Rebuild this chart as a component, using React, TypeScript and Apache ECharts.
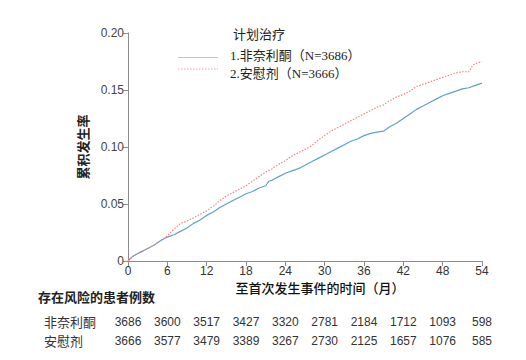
import React, { useEffect, useRef } from "react";
import * as echarts from "echarts";

const blueMonths = [0, 0.5, 1, 2, 3, 4, 5, 6, 7, 8, 9, 10, 11, 12, 13, 14, 15, 16, 17, 18, 19, 20, 21, 21.5, 22, 23, 24, 25, 26, 27, 28, 29, 30, 31, 32, 33, 34, 35, 36, 37, 38, 39, 40, 41, 42, 43, 44, 45, 46, 47, 48, 49, 50, 51, 52, 53, 54];
const blueValues = [0, 0.003, 0.005, 0.008, 0.011, 0.014, 0.018, 0.021, 0.023, 0.026, 0.029, 0.033, 0.036, 0.04, 0.043, 0.047, 0.05, 0.053, 0.056, 0.059, 0.061, 0.064, 0.066, 0.07, 0.071, 0.074, 0.077, 0.079, 0.081, 0.084, 0.087, 0.09, 0.093, 0.096, 0.099, 0.102, 0.105, 0.107, 0.11, 0.112, 0.113, 0.114, 0.118, 0.121, 0.125, 0.129, 0.133, 0.136, 0.139, 0.142, 0.145, 0.147, 0.149, 0.151, 0.152, 0.154, 0.156];

const redMonths = [0, 1, 2, 3, 4, 5, 6, 7, 8, 9, 10, 11, 12, 13, 14, 15, 16, 17, 18, 19, 20, 21, 22, 23, 24, 25, 26, 27, 28, 29, 30, 31, 32, 33, 34, 35, 36, 37, 38, 39, 40, 41, 42, 43, 44, 45, 46, 47, 48, 49, 50, 51, 52, 52.6, 53, 54];
const redValues = [0, 0.005, 0.008, 0.011, 0.014, 0.018, 0.022, 0.028, 0.033, 0.035, 0.038, 0.041, 0.044, 0.048, 0.053, 0.057, 0.06, 0.063, 0.066, 0.07, 0.074, 0.078, 0.081, 0.085, 0.088, 0.092, 0.095, 0.098, 0.101, 0.106, 0.11, 0.114, 0.117, 0.12, 0.123, 0.126, 0.129, 0.132, 0.135, 0.137, 0.141, 0.144, 0.146, 0.149, 0.153, 0.155, 0.157, 0.159, 0.161, 0.163, 0.165, 0.166, 0.166, 0.172, 0.173, 0.175];

const xTicks = [0, 6, 12, 18, 24, 30, 36, 42, 48, 54];
const riskFinerenone = [3686, 3600, 3517, 3427, 3320, 2781, 2184, 1712, 1093, 598];
const riskPlacebo = [3666, 3577, 3479, 3389, 3267, 2730, 2125, 1657, 1076, 585];

const seriesNames = ["1.非奈利酮（N=3686）", "2.安慰剂（N=3666）"];
const rowLabels = ["非奈利酮", "安慰剂"];
const legendTitle = "计划治疗";
const riskTitle = "存在风险的患者例数";
const xName = "至首次发生事件的时间（月）";
const yName = "累积发生率";

const BLUE = "#5fa3c4";
const RED = "#f08486";
const SANS = "Liberation Sans, Arial, Noto Sans CJK SC, sans-serif";
const SERIF = "Liberation Serif, Times New Roman, Noto Sans CJK SC, serif";

export default function App() {
  const ref = useRef<HTMLDivElement>(null);
  useEffect(() => {
    document.body.style.margin = "0";
    const chart = echarts.init(ref.current!, undefined, { renderer: "svg" });
    const option: any = {
      animation: false,
      grid: { left: 128, right: 44, top: 33, bottom: 99 },
      xAxis: {
        type: "value",
        min: 0,
        max: 54,
        interval: 6,
        axisLine: { lineStyle: { color: "#8c8c8c" } },
        axisTick: { show: true, length: 5, lineStyle: { color: "#8c8c8c" } },
        axisLabel: { fontFamily: SANS, fontSize: 12, color: "#333", margin: 4 },
        splitLine: { show: false },
      },
      yAxis: {
        type: "value",
        min: 0,
        max: 0.2,
        interval: 0.05,
        name: yName,
        nameLocation: "middle",
        nameRotate: 90,
        nameGap: 38,
        nameTextStyle: { fontFamily: SANS, fontSize: 13, fontWeight: "bold", color: "#222" },
        axisLine: { show: true, lineStyle: { color: "#8c8c8c" } },
        axisTick: { show: true, length: 5, lineStyle: { color: "#8c8c8c" } },
        axisLabel: {
          fontFamily: SANS,
          fontSize: 12,
          color: "#444",
          margin: 4,
          formatter: (v: number) => (v === 0 ? "0" : v.toFixed(2)),
        },
        splitLine: { show: false },
      },
      series: [
        {
          name: seriesNames[0],
          type: "line",
          showSymbol: false,
          symbol: "none",
          data: blueMonths.map((m, i) => [m, blueValues[i]]),
          lineStyle: { color: BLUE, width: 1.2 },
          itemStyle: { color: BLUE },
        },
        {
          name: seriesNames[1],
          type: "line",
          showSymbol: false,
          symbol: "none",
          data: redMonths.map((m, i) => [m, redValues[i]]),
          lineStyle: { color: RED, width: 1.2, type: [1.5, 1.5] },
          itemStyle: { color: RED },
        },
      ],
    };
    chart.setOption(option);

    const graphics: any[] = [
      { type: "text", x: 233, y: 34, style: { text: legendTitle, font: `13px ${SERIF}`, fill: "#222", verticalAlign: "middle" } },
      { type: "line", shape: { x1: 178, y1: 57.5, x2: 218, y2: 57.5 }, style: { stroke: "#a6cde0", lineWidth: 1.2 } },
      { type: "line", shape: { x1: 178, y1: 69, x2: 218, y2: 69 }, style: { stroke: "#f4a5a6", lineWidth: 1.2, lineDash: [1.5, 1.5] } },
      { type: "text", x: 230, y: 55, style: { text: seriesNames[0], font: `13px ${SERIF}`, fill: "#222", verticalAlign: "middle" } },
      { type: "text", x: 230, y: 73, style: { text: seriesNames[1], font: `13px ${SERIF}`, fill: "#222", verticalAlign: "middle" } },
      { type: "text", x: 320, y: 288, style: { text: xName, font: `500 13px ${SANS}`, fill: "#111", align: "center", verticalAlign: "middle" } },
      { type: "text", x: 38, y: 297, style: { text: riskTitle, font: `bold 13px ${SANS}`, fill: "#222", verticalAlign: "middle" } },
      { type: "text", x: 44, y: 322, style: { text: rowLabels[0], font: `13px ${SANS}`, fill: "#333", verticalAlign: "middle" } },
      { type: "text", x: 44, y: 341, style: { text: rowLabels[1], font: `13px ${SANS}`, fill: "#333", verticalAlign: "middle" } },
    ];
    const rows = [riskFinerenone, riskPlacebo];
    const rowY = [322, 341];
    rows.forEach((row, r) => {
      row.forEach((n, i) => {
        const x = chart.convertToPixel({ xAxisIndex: 0 }, xTicks[i]) as number;
        graphics.push({
          type: "text",
          x,
          y: rowY[r],
          style: { text: String(n), font: `12px ${SANS}`, fill: "#333", align: "center", verticalAlign: "middle" },
        });
      });
    });
    chart.setOption({ graphic: graphics });
    return () => chart.dispose();
  }, []);
  return <div ref={ref} style={{ width: 526, height: 360 }} />;
}
